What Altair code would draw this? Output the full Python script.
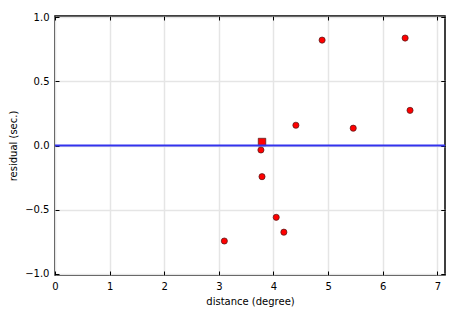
import altair as alt
import pandas as pd

dist = [3.10, 3.77, 3.79, 4.05, 4.19, 4.41, 4.89, 5.46, 6.41, 6.50]
resid = [-0.745, -0.035, -0.243, -0.56, -0.676, 0.158, 0.822, 0.135, 0.838, 0.274]
sq_dist = [3.79]
sq_resid = [0.027]

pts = pd.DataFrame({"d": dist, "r": resid})
sq = pd.DataFrame({"d": sq_dist, "r": sq_resid})
zero = pd.DataFrame({"y": [0.0]})

FONT = "DejaVu Sans"
xs = alt.Scale(domain=[0, 7.14], nice=False, zero=False)
ys = alt.Scale(domain=[-1.01, 1.01], nice=False, zero=False)

xax = alt.Axis(orient="bottom", values=[0, 1, 2, 3, 4, 5, 6, 7], offset=-4, tickSize=4,
               domain=False, labelPadding=6, grid=True, gridColor="#e5e5e5", gridWidth=1.5,
               tickColor="black", labelFont=FONT, labelFontSize=10, labelColor="black",
               titleFont=FONT, titleFontSize=10, titleFontWeight="normal", titleColor="black",
               title="distance (degree)", titlePadding=5, labelFlush=False)
yax = alt.Axis(orient="left", values=[-1.0, -0.5, 0.0, 0.5, 1.0], format=".1f", offset=-4, tickSize=4,
               domain=False, labelPadding=6, grid=True, gridColor="#e5e5e5", gridWidth=1.5,
               tickColor="black", labelFont=FONT, labelFontSize=10, labelColor="black",
               titleFont=FONT, titleFontSize=10, titleFontWeight="normal", titleColor="black",
               title="residual (sec.)", titlePadding=6, labelFlush=False)

xax2 = alt.Axis(orient="top", values=[0, 1, 2, 3, 4, 5, 6, 7], offset=-4, tickSize=4, domain=False,
                labels=False, grid=False, title=None, tickColor="black")
yax2 = alt.Axis(orient="right", values=[-1.0, -0.5, 0.0, 0.5, 1.0], offset=-4, tickSize=4, domain=False,
                labels=False, grid=False, title=None, tickColor="black")

base_pts = alt.Chart(pts).mark_point(shape="circle", filled=True, fill="#ff0000", stroke="#4a1a1a",
                                     strokeWidth=0.7, size=38, opacity=1).encode(
    x=alt.X("d:Q", scale=xs, axis=xax),
    y=alt.Y("r:Q", scale=ys, axis=yax),
)

line = alt.Chart(zero).mark_rule(color="#3333ee", strokeWidth=2).encode(
    y=alt.Y("y:Q", scale=ys, axis=yax2),
    x=alt.value(0), x2=alt.value(390),
)

frame_x = alt.Chart(zero).mark_point(opacity=0).encode(
    x=alt.X("y:Q", scale=xs, axis=xax2),
    y=alt.Y("y:Q", scale=ys, axis=yax2),
)

sq_layer = alt.Chart(sq).mark_point(shape="square", filled=True, fill="#ff0000", stroke="#4a1a1a",
                                    strokeWidth=0.7, size=56, opacity=1).encode(
    x=alt.X("d:Q", scale=xs),
    y=alt.Y("r:Q", scale=ys),
)

left = alt.layer(base_pts, sq_layer)

chart = alt.layer(left, line, frame_x).resolve_axis(x="independent", y="independent").properties(
    width=390, height=259,
    autosize=alt.AutoSizeParams(type="none"),
    padding={"left": 55, "top": 16, "right": 20, "bottom": 40},
).configure_view(stroke="black", strokeWidth=1.5)

chart.save("out.html", embed_options={"renderer": "svg", "actions": False})
